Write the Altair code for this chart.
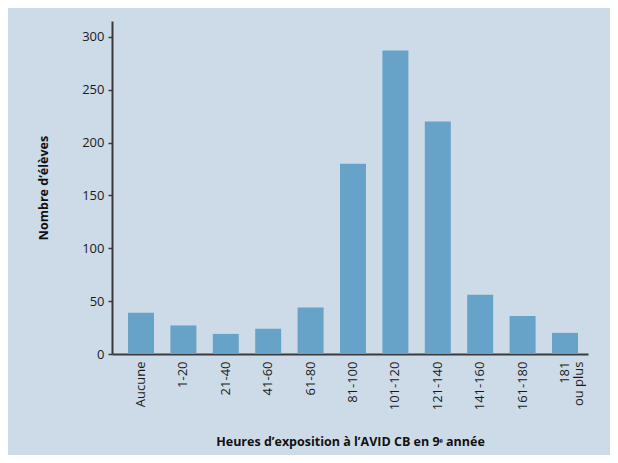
import altair as alt
import pandas as pd

categories = ["Aucune", "1-20", "21-40", "41-60", "61-80", "81-100", "101-120",
              "121-140", "141-160", "161-180", "181 ou plus"]
counts = [39, 27, 19, 24, 44, 180, 287, 220, 56, 36, 20]

df = pd.DataFrame({"cat": categories, "n": counts})

FONT = "Open Sans"
BG = "#cddbe8"
BAR = "#67a2c8"
AX = "#3a3a3a"

chart = alt.Chart(df).mark_bar(color=BAR).encode(
    x=alt.X("cat:N", sort=categories,
            scale=alt.Scale(paddingInner=0.387, paddingOuter=0.307, align=0.615),
            axis=alt.Axis(title="Heures d\u2019exposition à l\u2019AVID CB en 9ᵉ année",
                          labelAngle=270, labelAlign="right", labelBaseline="middle",
                          ticks=False, labelPadding=7,
                          labelExpr="datum.value == '181 ou plus' ? ['181', 'ou plus'] : datum.value",
                          titleY=87, titleBaseline="middle")),
    y=alt.Y("n:Q", scale=alt.Scale(domain=[0, 315], nice=False),
            axis=alt.Axis(title="Nombre d\u2019élèves", values=[0, 50, 100, 150, 200, 250, 300],
                          grid=False, tickSize=4, labelPadding=4, titleX=-69,
                          titleBaseline="middle")),
).properties(
    width=476, height=333,
    background=BG,
    padding={"left": 104, "top": 13, "right": 22, "bottom": 101},
    autosize=alt.AutoSizeParams(type="none"),
).configure_view(stroke=None).configure_axis(
    domainColor=AX, tickColor=AX, domainWidth=2, tickWidth=1.5,
    labelFont=FONT, titleFont=FONT, labelFontSize=13, titleFontSize=12.5,
    labelColor="#1a1a1a", titleColor="#111111", titleFontWeight="bold",
    labelLineHeight=14,
)

chart.save("out.html", embed_options={"renderer": "svg", "actions": False})
